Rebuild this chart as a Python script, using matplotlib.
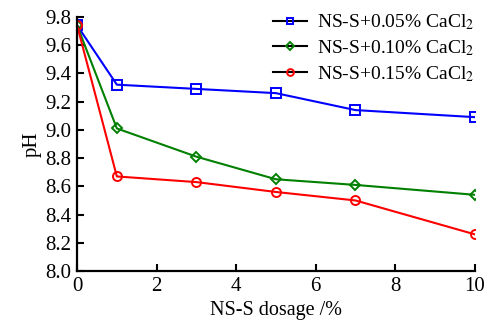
import matplotlib
matplotlib.use("Agg")
import matplotlib.pyplot as plt

plt.rcParams['font.family'] = ['Liberation Serif', 'DejaVu Serif']
plt.rcParams['mathtext.fontset'] = 'stix'

dosage = [0, 1, 3, 5, 7, 10]
ph_005 = [9.74, 9.32, 9.29, 9.26, 9.14, 9.09]
ph_010 = [9.74, 9.01, 8.81, 8.65, 8.61, 8.54]
ph_015 = [9.74, 8.67, 8.63, 8.56, 8.50, 8.26]
labels = ['NS-S+0.05% CaCl$_2$', 'NS-S+0.10% CaCl$_2$', 'NS-S+0.15% CaCl$_2$']
xticks = [0, 2, 4, 6, 8, 10]
yticks = [8.0, 8.2, 8.4, 8.6, 8.8, 9.0, 9.2, 9.4, 9.6, 9.8]

fig = plt.figure(figsize=(4.91, 3.25), dpi=100)
ax = fig.add_axes([0.157, 0.166, 0.81, 0.782])

specs = [(ph_005, 'blue', 's'), (ph_010, 'green', 'D'), (ph_015, 'red', 'o')]
for (vals, c, m), lab in zip(specs, labels):
    ms = 6.5 if m != 'D' else 5.5
    ax.plot(dosage, vals, color=c, marker=m, markersize=ms, markerfacecolor='none',
            markeredgecolor=c, markeredgewidth=1.4, linewidth=1.5, label=lab)

ax.set_xlim(0, 10)
ax.set_ylim(8.0, 9.8)
ax.set_xticks(xticks)
ax.set_xticklabels([str(x) for x in xticks])
ax.set_yticks(yticks)
ax.set_yticklabels([f"{y:.1f}" for y in yticks])
for s in ['top', 'right']:
    ax.spines[s].set_visible(False)
for s in ['left', 'bottom']:
    ax.spines[s].set_linewidth(1.6)
ax.tick_params(direction='in', length=5, width=1.5, labelsize=15)
ax.tick_params(axis='x', pad=4)
ax.tick_params(axis='y', pad=4)
ax.set_xlabel('NS-S dosage /%', fontsize=14.5, labelpad=4)
ax.set_ylabel('pH', fontsize=15, labelpad=3)

leg = fig.legend(*ax.get_legend_handles_labels(), loc='upper left',
                 bbox_to_anchor=(0.556, 0.962), bbox_transform=fig.transFigure,
                 frameon=False, fontsize=14, handlelength=1.75,
                 handletextpad=0.5, labelspacing=0.32, borderaxespad=0, borderpad=0,
                 markerscale=0.75)
for h, (vals, c, m) in zip(leg.legend_handles, specs):
    h.set_color('black')
    h.set_linewidth(1.5)
    h.set_markeredgecolor(c)

fig.savefig('out.png', dpi=100)
